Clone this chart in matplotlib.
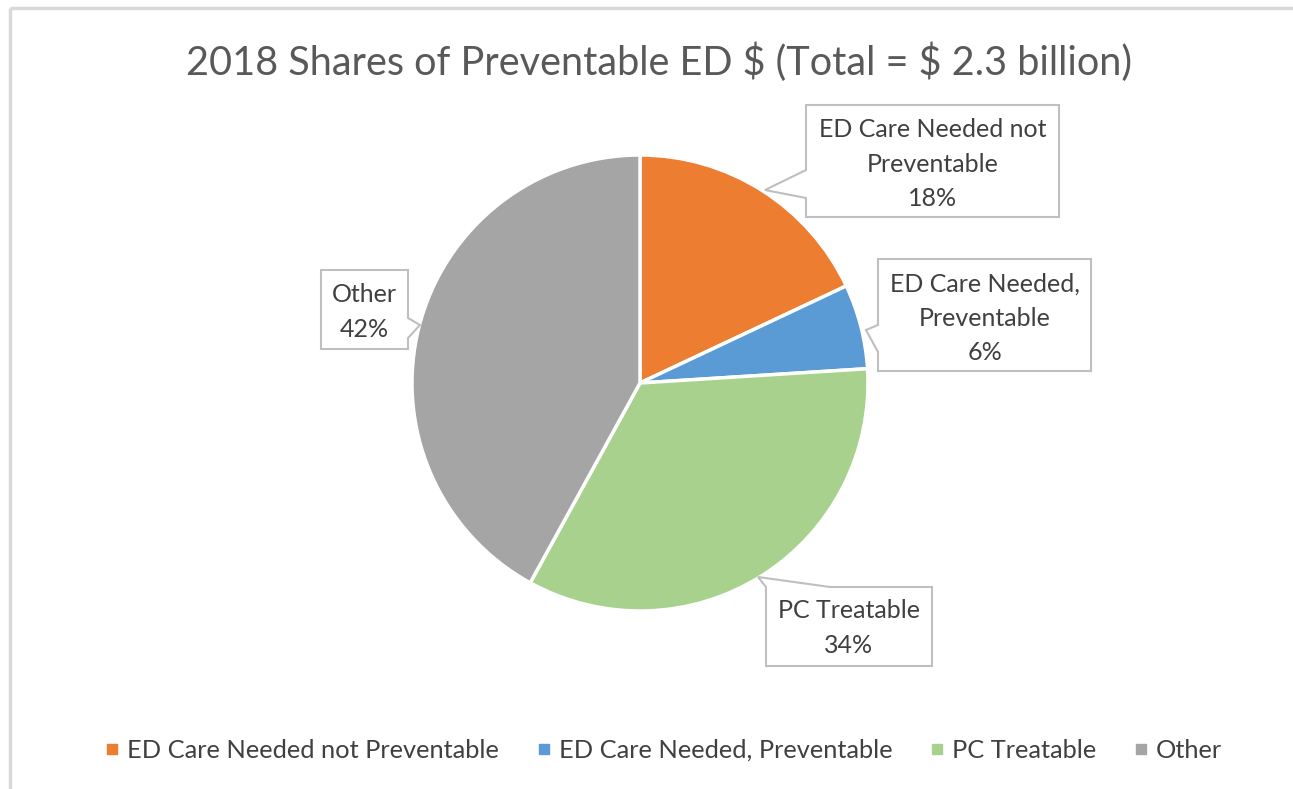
import matplotlib.pyplot as plt
from matplotlib.patches import Polygon
from matplotlib.lines import Line2D

# данные
categories = ["ED Care Needed not Preventable", "ED Care Needed, Preventable",
              "PC Treatable", "Other"]
shares = [18, 6, 34, 42]
label_text = ["ED Care Needed not\nPreventable", "ED Care Needed,\nPreventable",
              "PC Treatable", "Other"]
colors = ["#ED7D31", "#5B9BD5", "#A9D18E", "#A5A5A5"]
title = r"2018 Shares of Preventable ED \$ (Total = \$ 2.3 billion)"

W, H = 1293, 789
plt.rcParams['font.family'] = ['Lato', 'DejaVu Sans']

fig = plt.figure(figsize=(W / 100, H / 100), dpi=100)
ax = fig.add_axes([0, 0, 1, 1])


def py(y):
    # пиксели сверху -> координаты снизу
    return H - y


# круговая диаграмма
wedges, _ = ax.pie(shares, colors=colors, startangle=90, counterclock=False,
                   center=(640, py(383)), radius=228,
                   wedgeprops=dict(edgecolor="white", linewidth=2.5))
ax.set_xlim(0, W)
ax.set_ylim(0, H)
ax.set_aspect("equal")
ax.set_axis_off()

# рамка
ax.plot([10, W], [py(8), py(8)], color="#D9D9D9", lw=2.5, solid_capstyle="butt")
ax.plot([10, 10], [py(8), 0], color="#D9D9D9", lw=2.5, solid_capstyle="butt")

ax.text(659, py(62), title, ha="center", va="center", fontsize=28.5, color="#595959")


# выноски: прямоугольник + указатель
def callout(box, pts):
    x0, y0, x1, y1 = box
    verts = pts(x0, y0, x1, y1)
    poly = Polygon([(x, py(y)) for x, y in verts], closed=True,
                   facecolor="white", edgecolor="#BFBFBF", lw=1.5, zorder=3)
    ax.add_patch(poly)


# ED Care Needed not Preventable (указатель слева)
callout((806, 105, 1059, 217), lambda a, b, c, d: [
    (a, b), (c, b), (c, d), (a, d), (a, 198), (765, 190), (a, 170)])
# ED Care Needed, Preventable (указатель слева)
callout((878, 259, 1091, 371), lambda a, b, c, d: [
    (a, b), (c, b), (c, d), (a, d), (a, 352), (866, 330), (a, 325)])
# Other (указатель справа)
callout((321, 270, 408, 349), lambda a, b, c, d: [
    (a, b), (c, b), (c, 318), (420, 325), (c, 338), (c, d), (a, d)])
# PC Treatable (указатель сверху)
callout((766, 587, 932, 666), lambda a, b, c, d: [
    (a, b), (758, 577), (830, b), (c, b), (c, d), (a, d)])

label_pos = [(933, 164), (985, 318), (849, 628), (364, 312)]
for (x, y), txt, s in zip(label_pos, label_text, shares):
    ax.text(x, py(y), f"{txt}\n{s}%", ha="center", va="center", fontsize=18,
            color="#404040", linespacing=1.58, zorder=4)

# легенда
handles = [Line2D([], [], marker="s", linestyle="none", markersize=7,
                  markerfacecolor=c, markeredgecolor=c) for c in colors]
ax.legend(handles, categories, loc="center", bbox_to_anchor=(664 / W, 1 - 750 / H),
          ncol=4, frameon=False, fontsize=18.3, labelcolor="#404040",
          handlelength=0.5, handletextpad=0.35, columnspacing=1.5)

fig.savefig("out.png", dpi=100)
